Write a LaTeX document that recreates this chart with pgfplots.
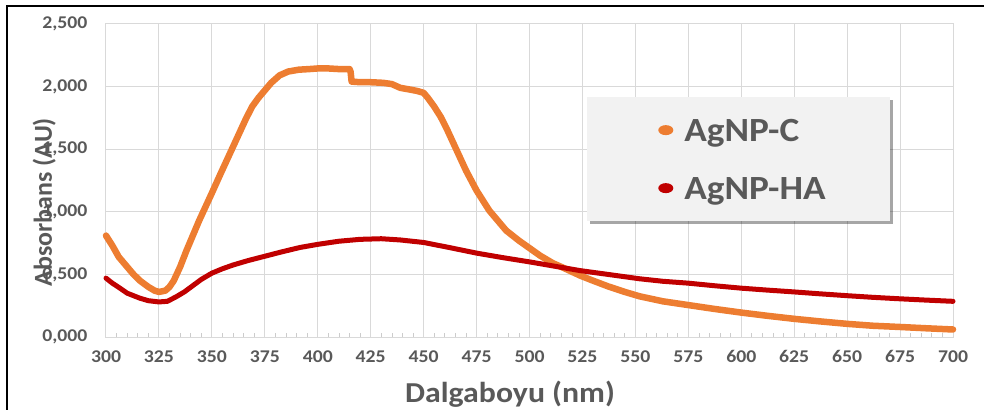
\documentclass[border=0pt]{standalone}
\usepackage{fontspec}
\setmainfont{Carlito}[FakeStretch=1.1]
\newfontfamily\ylabfont{Carlito}
\usepackage{pgfplots}
\pgfplotsset{compat=1.18}
\usetikzlibrary{shadows}
\definecolor{cOrange}{HTML}{ED7D31}
\definecolor{cRed}{HTML}{C00000}
\definecolor{txtgray}{HTML}{595959}
\definecolor{gridgray}{HTML}{D9D9D9}
\definecolor{legfill}{HTML}{F2F2F2}
\pgfplotsset{dotlegend/.style={legend image code/.code={
     \pgfpathmoveto{\pgfpoint{0bp}{0bp}}\pgfpathlineto{\pgfpoint{33bp}{0bp}}\pgfusepath{discard}
     \pgfsetfillcolor{#1}
     \pgfpathellipse{\pgfpoint{14.5bp}{0bp}}{\pgfpoint{7.5bp}{0bp}}{\pgfpoint{0bp}{5bp}}
     \pgfusepath{fill}
  }}}
\begin{document}
\begin{tikzpicture}
\useasboundingbox (0,0) rectangle (984bp,410bp);
\draw[line width=2bp] (7bp,0) -- (7bp,404bp) -- (984bp,404bp);
\begin{axis}[
  at={(106bp,73bp)}, anchor=south west,
  scale only axis, width=847bp, height=313bp,
  xmin=300, xmax=700, ymin=0, ymax=2.5,
  xtick={300,325,...,700}, ytick={0,0.5,...,2.5},
  minor x tick num=4,
  xtick pos=bottom, ytick pos=left,
  tick align=inside,
  major tick length=0pt, minor tick length=4bp,
  minor tick style={draw=gray!40, line width=0.7bp},
  grid=major, major grid style={draw=gridgray, line width=1bp},
  axis line style={draw=gridgray, line width=1bp},
  clip=false,
  tick label style={font=\fontsize{18}{21}\selectfont\bfseries, text=txtgray},
  xticklabel style={/pgf/number format/assume math mode=true, yshift=-10bp},
  yticklabel style={/pgf/number format/fixed, /pgf/number format/fixed zerofill,
     /pgf/number format/precision=3, /pgf/number format/use comma,
     /pgf/number format/assume math mode=true, xshift=-15bp},
  xlabel={Dalgaboyu (nm)},
  xlabel style={at={(axis description cs:0.477,-0.183)}, anchor=center,
     font=\fontsize{29}{34}\selectfont\bfseries, text=txtgray},
  ylabel={Absorbans (AU)},
  ylabel style={at={(axis description cs:-0.073,0.431)}, anchor=center, rotate=0,
     font=\ylabfont\fontsize{26}{30}\selectfont\bfseries, text=txtgray},
  legend cell align=left,
  legend style={at={(axis description cs:0.568,0.767)}, anchor=north west,
     fill=legfill, draw=none,
     drop shadow={shadow xshift=3bp, shadow yshift=-3bp, fill=black, opacity=0.35},
     font=\fontsize{34}{40}\selectfont\bfseries, text=txtgray,
     inner xsep=64bp, inner ysep=22bp, row sep=36bp,
     nodes={inner sep=0pt, text height=22bp, text depth=0bp}},
]
\addplot[cOrange, line width=6.5bp, line join=round, line cap=round, mark=none, dotlegend=cOrange] coordinates {
(300,0.81) (303,0.73) (306,0.64) (310,0.56) (313,0.50) (316,0.45) (320,0.40)
(323,0.37) (325,0.36) (328,0.37) (330,0.40) (332,0.45) (335,0.56) (338,0.69)
(341,0.81) (344,0.93) (347,1.04) (350,1.15) (354,1.30) (357,1.41) (360,1.52)
(363,1.63) (366,1.74) (369,1.84) (372,1.91) (375,1.97) (378,2.03) (382,2.09)
(386,2.12) (391,2.135) (396,2.14) (400,2.145) (405,2.145) (410,2.14) (415,2.14)
(415.5,2.12) (416,2.04) (420,2.035) (425,2.035) (431,2.03) (435,2.02) (439,1.99)
(444,1.975) (447,1.965) (450,1.95) (452,1.91) (455,1.84) (458,1.76) (461,1.66)
(464,1.55) (467,1.44) (470,1.33) (475,1.17) (481,1.01) (489,0.85) (495,0.77)
(500,0.71) (505,0.65) (511,0.59) (517,0.545) (524,0.49) (530,0.45) (537,0.405)
(545,0.36) (552,0.325) (563,0.285) (575,0.255) (587,0.225) (600,0.195)
(612,0.17) (625,0.145) (637,0.125) (650,0.105) (662,0.09) (675,0.08) (687,0.07) (700,0.06)
};
\addlegendentry{AgNP-C}
\addplot[cRed, line width=5bp, line join=round, line cap=round, mark=none, dotlegend=cRed] coordinates {
(300,0.47) (303,0.43) (306.6,0.39) (310,0.35) (313,0.33) (316,0.31) (320,0.29)
(325,0.28) (329,0.285) (333,0.32) (337,0.36) (341,0.41) (345,0.46) (350,0.51)
(355,0.545) (360,0.575) (367,0.61) (375,0.645) (383,0.68) (391.6,0.715)
(400,0.74) (410,0.765) (420,0.78) (430,0.785) (439,0.775) (450,0.755)
(462,0.715) (475,0.67) (487,0.635) (500,0.60) (512,0.565) (524,0.53)
(537,0.50) (552,0.465) (563,0.445) (575,0.43) (587,0.41) (600,0.39) (612,0.375)
(625,0.36) (637,0.345) (650,0.33) (662,0.317) (675,0.305) (687,0.295) (700,0.285)
};
\addlegendentry{AgNP-HA}
\end{axis}
\end{tikzpicture}
\end{document}
